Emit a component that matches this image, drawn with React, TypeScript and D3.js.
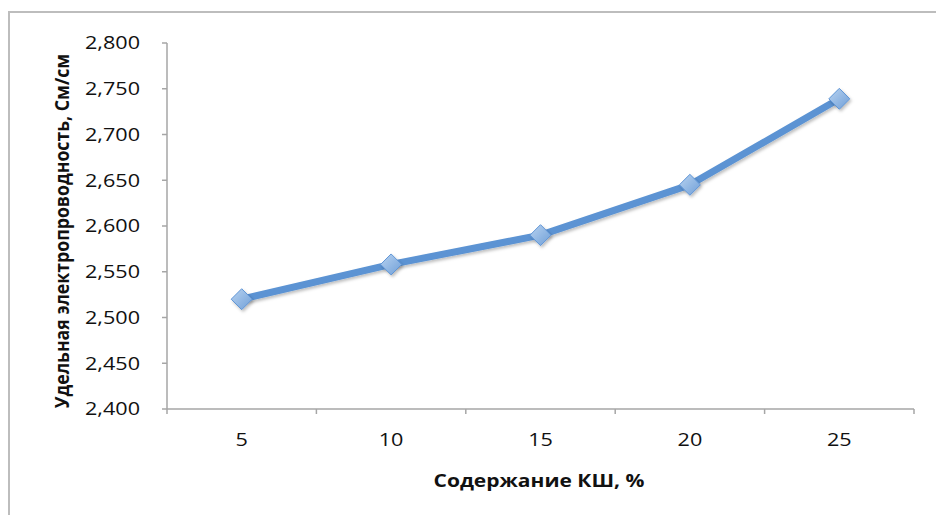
import React from "react";
import * as d3 from "d3";

const categories = ["5", "10", "15", "20", "25"];
const values = [2.52, 2.558, 2.59, 2.645, 2.739];
const yTicks = [2.4, 2.45, 2.5, 2.55, 2.6, 2.65, 2.7, 2.75, 2.8];
const xTitle = "Содержание КШ, %";
const yTitle = "Удельная электропроводность, См/см";

const W = 936, H = 515;
const left = 167, right = 914, top = 43, bottom = 409;
const font = "'Open Sans', 'DejaVu Sans', sans-serif";
const SX = 1.2;

export default function App() {
  const x = d3.scaleBand<string>().domain(categories).range([left, right]);
  const y = d3.scaleLinear().domain([2.4, 2.8]).range([bottom, top]);
  const line = d3.line<number>()
    .x((_, i) => (x(categories[i]) as number) + x.bandwidth() / 2)
    .y((d) => y(d));
  const fmt = (v: number) => d3.format(".3f")(v).replace(".", ",");
  const bounds = categories.map((c) => x(c) as number).concat([right]);
  const diamond = d3.symbol().type(d3.symbolDiamond2).size(280);
  return (
    <svg width={W} height={H} style={{ position: "absolute", left: 0, top: 0 }}>
      <defs>
        <linearGradient id="mk" x1="0" y1="0" x2="1" y2="1">
          <stop offset="0%" stopColor="#b9d3f0" />
          <stop offset="100%" stopColor="#6f9fd8" />
        </linearGradient>
        <filter id="sh" x="-50%" y="-50%" width="200%" height="200%">
          <feDropShadow dx="1.5" dy="2" stdDeviation="1.5" floodColor="#000" floodOpacity="0.25" />
        </filter>
      </defs>
      <rect x={0} y={0} width={W} height={H} fill="#fff" />
      <path d={`M9,${H} V12 H${W}`} fill="none" stroke="#bdbdbd" strokeWidth={2} />
      {/* y axis */}
      <line x1={left} x2={left} y1={top} y2={bottom} stroke="#a6a6a6" strokeWidth={1.5} />
      {yTicks.map((t) => (
        <g key={t}>
          <line x1={left - 5} x2={left} y1={y(t)} y2={y(t)} stroke="#a6a6a6" strokeWidth={1.5} />
          <text transform={`translate(140,${y(t)}) scale(${SX},1)`} dy="0.36em" textAnchor="end" fontFamily={font} fontSize={18} fill="#111">
            {fmt(t)}
          </text>
        </g>
      ))}
      {/* x axis */}
      <line x1={left} x2={right} y1={bottom} y2={bottom} stroke="#a6a6a6" strokeWidth={1.5} />
      {bounds.map((b, i) => (
        <line key={i} x1={b} x2={b} y1={bottom} y2={bottom + 5} stroke="#a6a6a6" strokeWidth={1.5} />
      ))}
      {categories.map((c) => (
        <text key={c} transform={`translate(${(x(c) as number) + x.bandwidth() / 2},446) scale(${SX},1)`} textAnchor="middle" fontFamily={font} fontSize={18} fill="#111">
          {c}
        </text>
      ))}
      <text transform={`translate(539,487) scale(${SX},1)`} textAnchor="middle" fontFamily={font} fontSize={17.5} fontWeight="bold" fill="#111">
        {xTitle}
      </text>
      <text transform={`translate(69,231) scale(1.15,1) rotate(-90)`} textAnchor="middle" fontFamily={font} fontSize={17.7} fontWeight="bold" fill="#111">
        {yTitle}
      </text>
      <path d={line(values) as string} fill="none" stroke="#5b93d3" strokeWidth={7} strokeLinejoin="round" filter="url(#sh)" />
      {values.map((v, i) => (
        <path
          key={i}
          d={diamond() as string}
          transform={`translate(${(x(categories[i]) as number) + x.bandwidth() / 2},${y(v)})`}
          fill="url(#mk)"
          stroke="#5f95d6"
          strokeWidth={1}
          filter="url(#sh)"
        />
      ))}
    </svg>
  );
}
